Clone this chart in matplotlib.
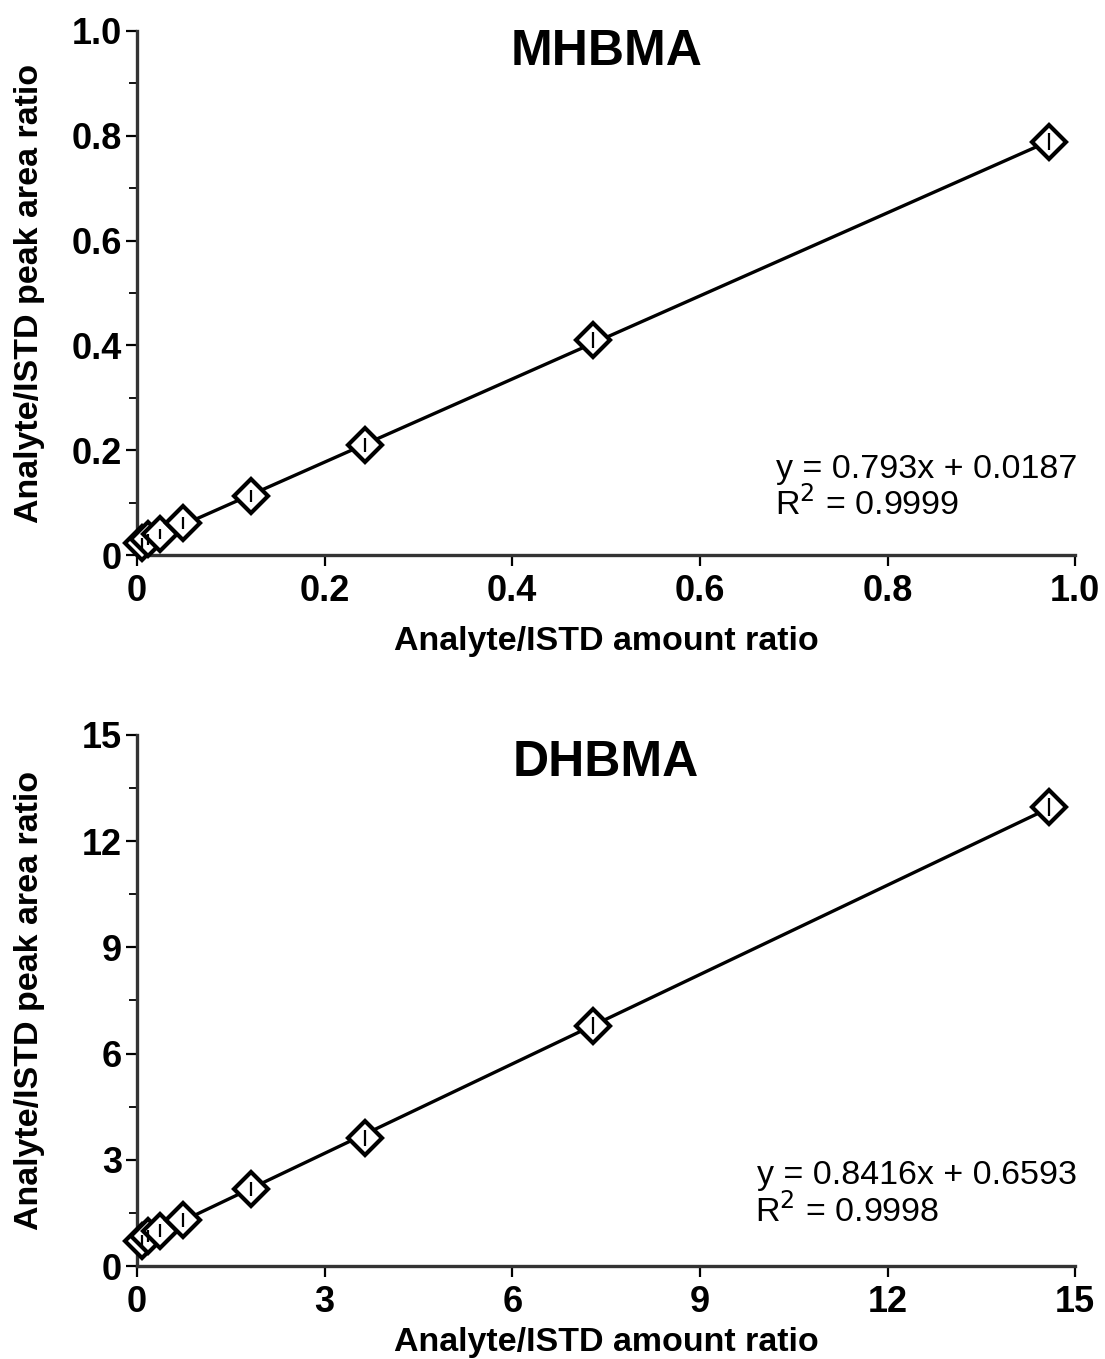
import numpy as np
import matplotlib.pyplot as plt
from matplotlib.ticker import MultipleLocator

plt.rcParams['font.family'] = ['Liberation Sans', 'DejaVu Sans']

# MHBMA calibration
mh_x = [0.00486, 0.0122, 0.0243, 0.0486, 0.1215, 0.243, 0.486, 0.972]
mh_y = [0.022, 0.030, 0.040, 0.061, 0.113, 0.210, 0.410, 0.789]
mh_err = [0.010, 0.010, 0.010, 0.012, 0.012, 0.014, 0.015, 0.016]
mh_fit = (0.793, 0.0187)
mh_eq = ['y = 0.793x + 0.0187', '0.9999']

# DHBMA calibration
dh_x = [0.073, 0.182, 0.364, 0.729, 1.82, 3.645, 7.29, 14.58]
dh_y = [0.70, 0.85, 1.00, 1.30, 2.18, 3.62, 6.78, 12.97]
dh_err = [0.18, 0.18, 0.18, 0.20, 0.20, 0.22, 0.24, 0.25]
dh_fit = (0.8416, 0.6593)
dh_eq = ['y = 0.8416x + 0.6593', '0.9998']


def draw_panel(ax, title, x, y, err, fit, eq, lim, step, labels, minor, pos):
    m, b = fit
    xs = np.array([0, max(x)])
    ax.plot(xs, m * xs + b, color='black', lw=2.4, zorder=2)
    ax.plot(x, y, 'D', ms=17, mfc='white', mec='black', mew=3, zorder=3,
            clip_on=False)
    ax.errorbar(x, y, yerr=err, fmt='none', ecolor='black', elinewidth=1.6,
                capsize=0, zorder=4, clip_on=False)
    ax.set_xlim(0, lim)
    ax.set_ylim(0, lim)
    ticks = np.arange(0, lim + step / 2, step)
    ax.set_xticks(ticks)
    ax.set_yticks(ticks)
    ax.set_xticklabels(labels, fontsize=26, fontweight='bold')
    ax.set_yticklabels(labels, fontsize=26, fontweight='bold')
    ax.yaxis.set_minor_locator(MultipleLocator(minor))
    ax.tick_params(axis='both', which='major', length=8, width=1.6, direction='out')
    ax.tick_params(axis='y', which='minor', length=6, width=1.3, direction='out')
    ax.tick_params(axis='x', pad=6)
    ax.tick_params(axis='y', pad=3)
    for side in ['top', 'right']:
        ax.spines[side].set_visible(False)
    for side in ['left', 'bottom']:
        ax.spines[side].set_linewidth(2.4)
        ax.spines[side].set_color('#333333')
    ax.set_xlabel('Analyte/ISTD amount ratio', fontsize=24.5, fontweight='bold')
    ax.set_ylabel('Analyte/ISTD peak area ratio', fontsize=24.5, fontweight='bold')
    ax.xaxis.set_label_coords(0.5, pos['xlab'])
    ax.yaxis.set_label_coords(-0.098, 0.5)
    ax.text(0.5, pos['title'], title, transform=ax.transAxes, ha='center',
            va='baseline', fontsize=36, fontweight='bold')
    ax.text(1.002, pos['eq1'], eq[0], transform=ax.transAxes, ha='right',
            va='baseline', fontsize=24.5)
    ax.text(pos['eqx'], pos['eq2'], r'R$^2$ = ' + eq[1], transform=ax.transAxes,
            ha='left', va='baseline', fontsize=24.5)


fig = plt.figure(figsize=(11.05, 13.59), dpi=100)
ax1 = fig.add_axes([0.124, 0.5916, 0.849, 0.3856])
ax2 = fig.add_axes([0.124, 0.0684, 0.849, 0.3908])

draw_panel(ax1, 'MHBMA', mh_x, mh_y, mh_err, mh_fit, mh_eq, 1.0, 0.2,
           ['0', '0.2', '0.4', '0.6', '0.8', '1.0'], 0.1,
           {'xlab': -0.135, 'title': 0.935, 'eq1': 0.147, 'eq2': 0.078, 'eqx': 0.680})
draw_panel(ax2, 'DHBMA', dh_x, dh_y, dh_err, dh_fit, dh_eq, 15, 3,
           ['0', '3', '6', '9', '12', '15'], 1.5,
           {'xlab': -0.115, 'title': 0.923, 'eq1': 0.154, 'eq2': 0.083, 'eqx': 0.659})

fig.savefig('out.png', dpi=100)
